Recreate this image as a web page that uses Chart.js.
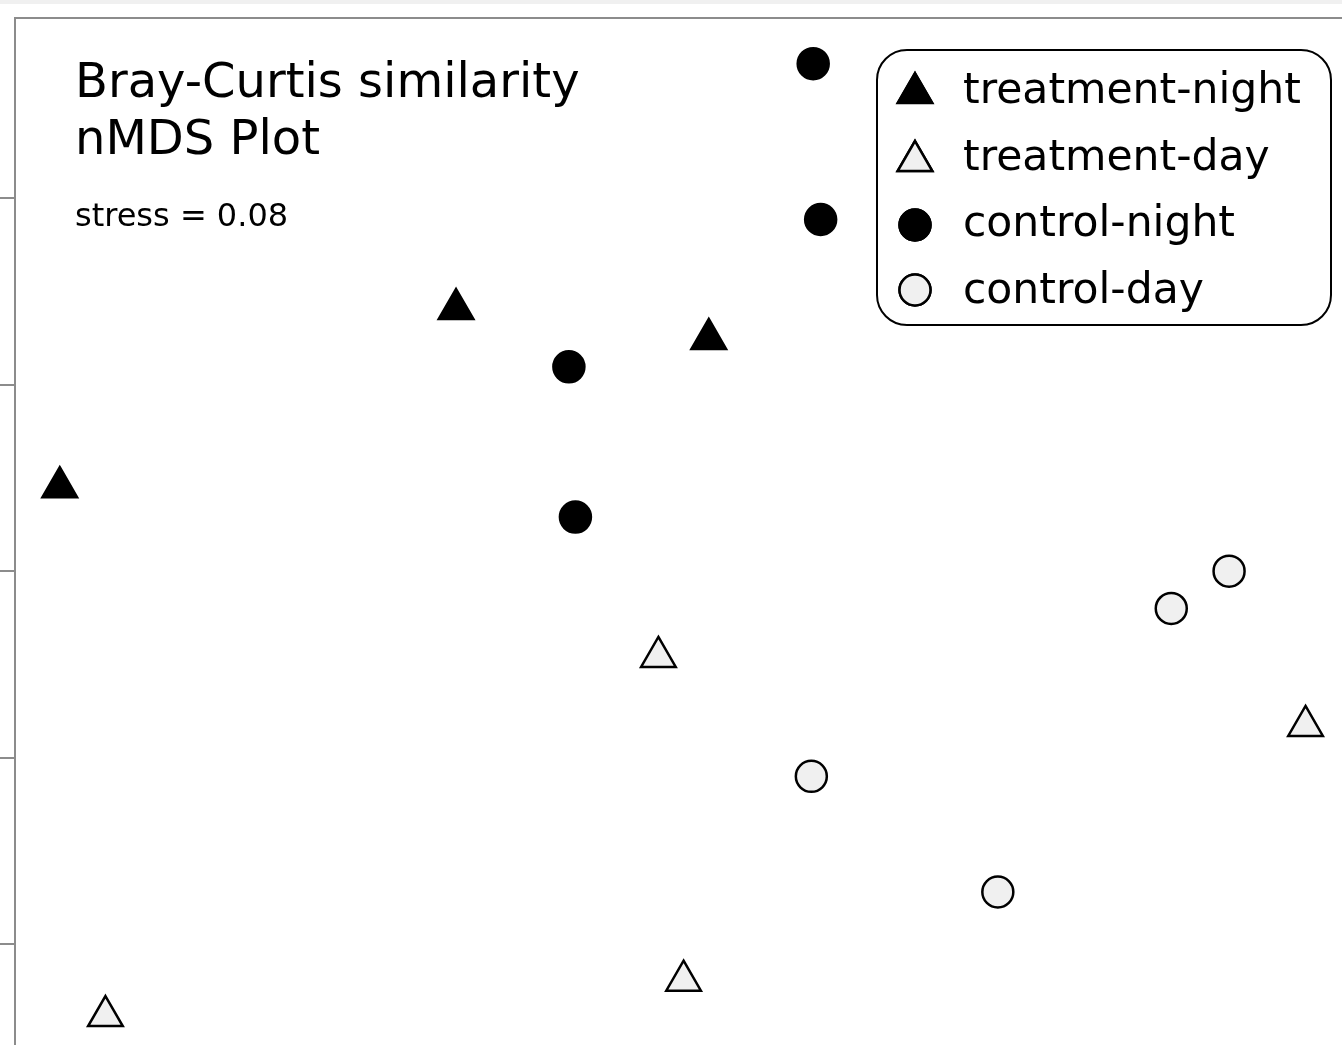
<!DOCTYPE html>
<html>
<head>
<meta charset="utf-8">
<title>nMDS Plot</title>
<script src="https://cdn.jsdelivr.net/npm/chart.js"></script>
<style>
  body { margin: 0; padding-top: 4px; background: #f0f0f0; overflow: hidden; }
  #wrap { width: 1342px; height: 1041px; background: #fff; }
</style>
</head>
<body>
<div id="wrap"><canvas id="nmds" width="1342" height="1041"></canvas></div>
<script>
// nMDS coordinates (axis 1, axis 2)
var treatmentNightX = [-0.227, 0.044, -0.652];
var treatmentNightY = [0.281, 0.249, 0.090];
var treatmentDayX = [-0.010, 0.684, 0.017, -0.603];
var treatmentDayY = [-0.092, -0.166, -0.439, -0.477];
var controlNightX = [0.156, 0.164, -0.106, -0.099];
var controlNightY = [0.544, 0.377, 0.219, 0.058];
var controlDayX = [0.602, 0.540, 0.154, 0.354];
var controlDayY = [0.000, -0.040, -0.220, -0.344];

var groupNames = ["treatment-night", "treatment-day", "control-night", "control-day"];
var yTicks = [-0.4, -0.2, 0, 0.2, 0.4];
var stressValue = 0.08;

function pts(xs, ys) {
    return xs.map(function (x, i) { return {x: x, y: ys[i]}; });
}

var night = "#000000";
var day = "#f0f0f0";
var axisGrey = "#8c8c8c";
var font = "'DejaVu Sans', Verdana, sans-serif";

// title, stress and the rounded legend box are drawn inside the plot area
var overlay = {
    id: "overlay",
    afterDraw: function (chart) {
        var ctx = chart.ctx;
        ctx.save();
        ctx.fillStyle = "#000";
        ctx.textBaseline = "alphabetic";
        ctx.textAlign = "left";
        ctx.font = "48px " + font;
        ctx.fillText("Bray-Curtis similarity", 75, 93);
        ctx.fillText("nMDS Plot", 75, 150);
        ctx.font = "32px " + font;
        ctx.fillText("stress = " + stressValue.toFixed(2), 75, 222);

        ctx.beginPath();
        ctx.roundRect(877, 46, 454, 275, 30);
        ctx.fillStyle = "#fff";
        ctx.fill();
        ctx.lineWidth = 2;
        ctx.strokeStyle = "#000";
        ctx.stroke();

        var markerY = [89, 157, 221, 286];
        var textY = [99, 165.5, 232, 298.5];
        chart.data.datasets.forEach(function (ds, i) {
            Chart.helpers.drawPoint(ctx, {
                pointStyle: ds.pointStyle,
                radius: ds.pointRadius,
                borderWidth: ds.borderWidth,
                rotation: 0
            }, 915, markerY[i]);
            ctx.fillStyle = ds.backgroundColor;
            ctx.strokeStyle = ds.borderColor;
            ctx.lineWidth = ds.borderWidth;
            ctx.fill();
            ctx.stroke();
            ctx.fillStyle = "#000";
            ctx.font = "42.5px " + font;
            ctx.fillText(ds.label, 963, textY[i]);
        });
        ctx.restore();
    }
};

new Chart(document.getElementById("nmds"), {
    type: "scatter",
    data: {
        datasets: [
            {
                label: groupNames[0],
                data: pts(treatmentNightX, treatmentNightY),
                pointStyle: "triangle", pointRadius: 20, borderWidth: 2.5,
                backgroundColor: night, borderColor: "#000"
            },
            {
                label: groupNames[1],
                data: pts(treatmentDayX, treatmentDayY),
                pointStyle: "triangle", pointRadius: 20, borderWidth: 2.5,
                backgroundColor: day, borderColor: "#000"
            },
            {
                label: groupNames[2],
                data: pts(controlNightX, controlNightY),
                pointStyle: "circle", pointRadius: 15.5, borderWidth: 2.5,
                backgroundColor: night, borderColor: "#000"
            },
            {
                label: groupNames[3],
                data: pts(controlDayX, controlDayY),
                pointStyle: "circle", pointRadius: 15.5, borderWidth: 2.5,
                backgroundColor: day, borderColor: "#000"
            }
        ]
    },
    options: {
        responsive: false,
        animation: false,
        events: [],
        layout: {autoPadding: false, padding: {top: 14, left: 0, right: 0, bottom: 0}},
        plugins: {legend: {display: false}, tooltip: {enabled: false}, title: {display: false}},
        scales: {
            x: {
                type: "linear",
                position: "top",
                min: -0.7,
                max: 0.7231,
                ticks: {display: false},
                grid: {display: false, drawTicks: false, tickLength: 0},
                border: {display: true, color: axisGrey, width: 2}
            },
            y: {
                type: "linear",
                position: "left",
                min: -0.508,
                max: 0.593,
                afterBuildTicks: function (scale) {
                    scale.ticks = yTicks.map(function (v) { return {value: v}; });
                },
                ticks: {display: false},
                grid: {drawOnChartArea: false, drawTicks: true, tickLength: 15, color: axisGrey, lineWidth: 2},
                border: {display: true, color: axisGrey, width: 2}
            }
        }
    },
    plugins: [overlay]
});
</script>
</body>
</html>
